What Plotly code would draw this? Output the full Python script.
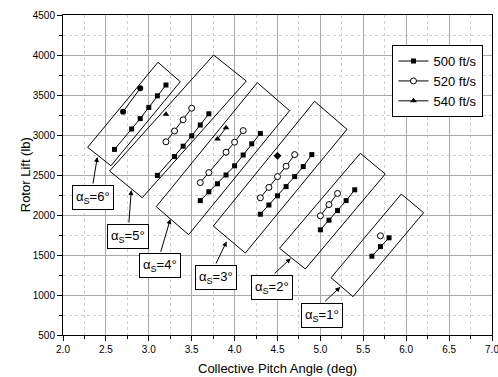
import plotly.graph_objects as go

# ---------------- data ----------------
pitch_500 = [2.6, 2.8, 2.9, 3.0, 3.1, 3.2, None,
             3.1, 3.3, 3.4, 3.5, 3.6, 3.7, None,
             3.6, 3.7, 3.8, 3.9, 4.0, 4.1, 4.2, 4.3, None,
             4.3, 4.4, 4.5, 4.6, 4.7, 4.8, 4.9, None,
             5.0, 5.1, 5.2, 5.3, 5.4, None,
             5.6, 5.7, 5.8]
lift_500 = [2820, 3075, 3205, 3345, 3490, 3625, None,
            2495, 2730, 2860, 2990, 3125, 3265, None,
            2180, 2290, 2390, 2500, 2615, 2750, 2890, 3020, None,
            2010, 2125, 2240, 2355, 2480, 2605, 2755, None,
            1815, 1935, 2055, 2180, 2315, None,
            1485, 1605, 1715]

pitch_520 = [3.2, 3.3, 3.4, 3.5, None,
             3.6, 3.7, 3.9, 4.0, 4.1, None,
             4.3, 4.4, 4.5, 4.6, 4.7, None,
             5.0, 5.1, 5.2, None,
             5.7]
lift_520 = [2915, 3050, 3190, 3335, None,
            2405, 2530, 2785, 2910, 3055, None,
            2215, 2345, 2480, 2610, 2755, None,
            1990, 2130, 2270, None,
            1740]

pitch_540 = [3.2, None, 3.8, 3.9, None, 2.7, 2.9, None, 4.5]
lift_540 = [3260, None, 2950, 3090, None, 3290, 3585, None, 2740]

series_names = ["500 ft/s", "520 ft/s", "540 ft/s"]
shaft_angles = ["6", "5", "4", "3", "2", "1"]

x_ticks = [2.0, 2.5, 3.0, 3.5, 4.0, 4.5, 5.0, 5.5, 6.0, 6.5, 7.0]
y_ticks = [500, 1000, 1500, 2000, 2500, 3000, 3500, 4000, 4500]

x_title = "Collective Pitch Angle (deg)"
y_title = "Rotor Lift (lb)"

# ---------------- decoration geometry (data coordinates) ----------------
group_boxes = [
    [(3.107, 3909), (3.367, 3666), (2.559, 2616), (2.287, 2846)],
    [(3.755, 4000), (4.136, 3675), (2.924, 2216), (2.543, 2550)],
    [(4.265, 3654), (4.641, 3304), (3.464, 1754), (3.087, 2104)],
    [(4.932, 3421), (5.310, 3071), (4.125, 1525), (3.752, 1862)],
    [(5.465, 2771), (5.756, 2512), (4.824, 1325), (4.524, 1584)],
    [(5.943, 2262), (6.203, 2029), (5.380, 979), (5.124, 1216)],
]
arrow_tips = [(2.400, 2725), (2.796, 2312), (3.251, 1950),
              (3.907, 1669), (4.655, 1459), (5.232, 1100)]
arrow_tails = [(2.347, 2375), (2.767, 1887), (3.134, 1521),
               (3.775, 1375), (4.448, 1250), (5.037, 904)]
label_pos = [(2.352, 2219), (2.761, 1731), (3.128, 1365),
             (3.781, 1219), (4.436, 1094), (5.022, 744)]

symbols_540 = ["triangle-up", "triangle-up", "triangle-up", "triangle-up",
               "circle", "circle", "circle", "circle", "diamond"]

FONT = "Arial, Liberation Sans, sans-serif"

fig = go.Figure()
fig.add_trace(go.Scatter(
    x=pitch_500, y=lift_500, name=series_names[0], mode="lines+markers",
    line=dict(color="black", width=1),
    marker=dict(symbol="square", size=5, color="black"),
    connectgaps=False))
fig.add_trace(go.Scatter(
    x=pitch_520, y=lift_520, name=series_names[1], mode="lines+markers",
    line=dict(color="black", width=1),
    marker=dict(symbol="circle", size=6, color="white",
                line=dict(color="black", width=1)),
    connectgaps=False))
fig.add_trace(go.Scatter(
    x=pitch_540, y=lift_540, name=series_names[2], mode="lines+markers",
    line=dict(color="black", width=1),
    marker=dict(symbol=symbols_540, size=6, color="black"),
    connectgaps=False))

shapes = []
for box in group_boxes:
    path = "M " + " L ".join(f"{x},{y}" for x, y in box) + " Z"
    shapes.append(dict(type="path", path=path, xref="x", yref="y",
                       line=dict(color="black", width=1), layer="above"))

annotations = []
for (tx, ty), (sx, sy) in zip(arrow_tips, arrow_tails):
    annotations.append(dict(x=tx, y=ty, ax=sx, ay=sy, xref="x", yref="y",
                            axref="x", ayref="y", text="", showarrow=True,
                            arrowhead=2, arrowsize=1, arrowwidth=1,
                            arrowcolor="black", standoff=0, startstandoff=0))
for ang, (lx, ly) in zip(shaft_angles, label_pos):
    annotations.append(dict(x=lx, y=ly, xref="x", yref="y",
                            text=f"α<sub>S</sub>={ang}°", showarrow=False,
                            bordercolor="black", borderwidth=1, bgcolor="white",
                            borderpad=3, font=dict(family=FONT, size=13, color="black")))
# axis titles
annotations.append(dict(x=0.5, y=-0.106, xref="paper", yref="paper",
                        text=x_title, showarrow=False, xanchor="center", yanchor="middle",
                        font=dict(family=FONT, size=13, color="black")))
annotations.append(dict(x=-0.088, y=0.5, xref="paper", yref="paper",
                        text=y_title, showarrow=False, textangle=-90,
                        xanchor="center", yanchor="middle",
                        font=dict(family=FONT, size=13, color="black")))

axis_common = dict(showline=True, linecolor="black", linewidth=1, mirror=True,
                   ticks="outside", ticklen=5, tickcolor="black",
                   showgrid=True, gridcolor="#a8a8a8", gridwidth=1,
                   zeroline=False, automargin=False, ticklabeloverflow="allow",
                   tickfont=dict(family=FONT, size=10, color="black"))

fig.update_layout(
    width=498, height=377,
    margin=dict(l=63, r=6, t=15, b=42),
    paper_bgcolor="white", plot_bgcolor="white",
    font=dict(family=FONT, color="black"),
    showlegend=True,
    legend=dict(x=0.768, y=0.906, xanchor="left", yanchor="top",
                bordercolor="black", borderwidth=1, bgcolor="white",
                font=dict(family=FONT, size=13, color="black"),
                itemwidth=30, tracegroupgap=0),
    shapes=shapes, annotations=annotations,
)
fig.update_xaxes(**axis_common, range=[2, 7], tickvals=x_ticks,
                 tickformat=".1f",
                 minor=dict(dtick=0.25, ticks="outside", ticklen=3, tickcolor="black",
                            showgrid=True, gridcolor="#cfcfcf", griddash="dot"))
fig.update_yaxes(**axis_common, range=[500, 4500], tickvals=y_ticks,
                 minor=dict(dtick=250, ticks="outside", ticklen=3, tickcolor="black",
                            showgrid=True, gridcolor="#cfcfcf", griddash="dot"))

fig.write_html("out.html",
               config={"displayModeBar": False},
               post_script="document.body.style.margin='0px';"
                           "document.body.style.overflow='hidden';")
